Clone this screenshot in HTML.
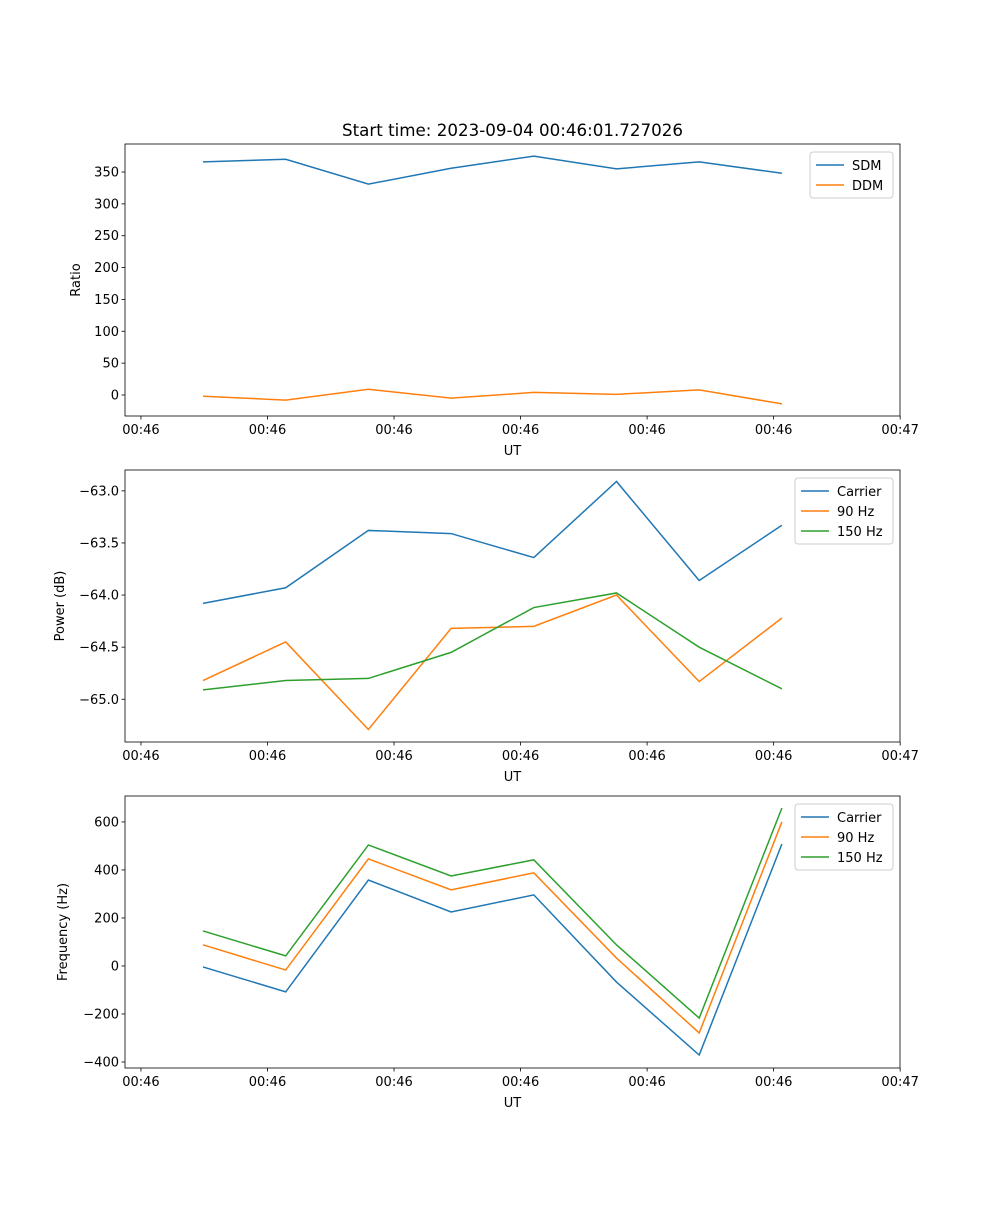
<!DOCTYPE html>
<html><head><meta charset="utf-8"><style>
body{margin:0;background:#fff}
svg text{font-family:"DejaVu Sans","Liberation Sans",sans-serif;fill:#000}
</style></head><body>
<svg id="fig" width="1000" height="1200" xmlns="http://www.w3.org/2000/svg"></svg>
<script>
const categories = [0,1,2,3,4,5,6,7];
const xTickLabels = ["00:46","00:46","00:46","00:46","00:46","00:46","00:47"];
const sdm = [366,370,331,356,375,355,366,348];
const ddm = [-2,-8,9,-5,4,1,8,-14];
const powCarrier = [-64.08,-63.93,-63.38,-63.41,-63.64,-62.91,-63.86,-63.33];
const pow90 = [-64.82,-64.45,-65.29,-64.32,-64.30,-64.00,-64.83,-64.22];
const pow150 = [-64.91,-64.82,-64.80,-64.55,-64.12,-63.98,-64.50,-64.90];
const freqCarrier = [-4,-108,358,225,296,-67,-371,508];
const freq90 = [88,-17,446,317,388,33,-279,600];
const freq150 = [146,42,504,375,442,88,-217,658];
const ratioTicks = [0,50,100,150,200,250,300,350];
const powTicks = [-65.0,-64.5,-64.0,-63.5,-63.0];
const freqTicks = [-400,-200,0,200,400,600];

const NS="http://www.w3.org/2000/svg";
const svg=document.getElementById('fig');
function mk(tag,attrs,parent){const e=document.createElementNS(NS,tag);for(const k in attrs)e.setAttribute(k,attrs[k]);(parent||svg).appendChild(e);return e;}
const L=125,R=900;
const xmin=-0.943,xmax=8.428;
function xs(v){return L+(v-xmin)/(xmax-xmin)*(R-L);}
const xTickPos=[-0.75,0.78,2.31,3.84,5.37,6.90,8.43];
const C=['#1f77b4','#ff7f0e','#2ca02c'];

function panel(name,top,bot,ymin,ymax,yTicks,fmt,ylabel,series,names,legend,title){
  const g=mk('g',{});
  
  
  const ys=v=>bot-(v-ymin)/(ymax-ymin)*(bot-top);
  series.forEach((s,i)=>{
    const p=mk('polyline',{points:s.map((v,j)=>xs(categories[j])+','+ys(v)).join(' '),fill:'none',stroke:C[i],'stroke-width':1.5},g);
    
    
  });
  const fr=mk('rect',{x:L,y:top,width:R-L,height:bot-top,fill:'none',stroke:'#000','stroke-width':0.8},g);
  
  
  xTickPos.forEach((t,i)=>{const x=xs(t);
    mk('line',{x1:x,x2:x,y1:bot,y2:bot+3.5,stroke:'#000','stroke-width':0.8},g);
    const tx=mk('text',{x:x,y:bot+18,'text-anchor':'middle','font-size':13},g);tx.textContent=xTickLabels[i];
    
    });
  yTicks.forEach(t=>{const y=ys(t);
    mk('line',{x1:L-3.5,x2:L,y1:y,y2:y,stroke:'#000','stroke-width':0.8},g);
    const tx=mk('text',{x:L-6,y:y+4.5,'text-anchor':'end','font-size':13},g);tx.textContent=fmt(t);
    
    });
  const xl=mk('text',{x:(L+R)/2,y:bot+39,'text-anchor':'middle','font-size':13},g);xl.textContent='UT';
  
  
  const yl=mk('text',{x:0,y:0,'text-anchor':'middle','font-size':13,transform:`translate(${legend.yl},${(top+bot)/2}) rotate(-90)`},g);yl.textContent=ylabel;
  
  
  if(title){const t=mk('text',{x:(L+R)/2,y:top-8,'text-anchor':'middle','font-size':16.7},g);t.textContent=title;
    
    }
  const lg=mk('g',{},g);
  
  
  mk('rect',{x:legend.x,y:top+8,width:893-legend.x,height:names.length*20+6,rx:3,fill:'#fff',stroke:'#ccc','stroke-width':1},lg);
  names.forEach((n,i)=>{const y=top+8+13+i*20;
    mk('line',{x1:legend.x+6,x2:legend.x+34,y1:y,y2:y,stroke:C[i],'stroke-width':1.5},lg);
    const t=mk('text',{x:legend.x+42,y:y+5,'font-size':13},lg);t.textContent=n;
    
    });
}
panel('ratio',144,416,-33,394,ratioTicks,v=>String(v),'Ratio',[sdm,ddm],['SDM','DDM'],{x:810,yl:80},'Start time: 2023-09-04 00:46:01.727026');
panel('power',470,742,-65.41,-62.8,powTicks,v=>'\u2212'+Math.abs(v).toFixed(1),'Power (dB)',[powCarrier,pow90,pow150],['Carrier','90 Hz','150 Hz'],{x:795,yl:64});
panel('frequency',796,1068,-425,708,freqTicks,v=>(v<0?'\u2212':'')+Math.abs(v),'Frequency (Hz)',[freqCarrier,freq90,freq150],['Carrier','90 Hz','150 Hz'],{x:795,yl:67});
</script>
</body></html>
